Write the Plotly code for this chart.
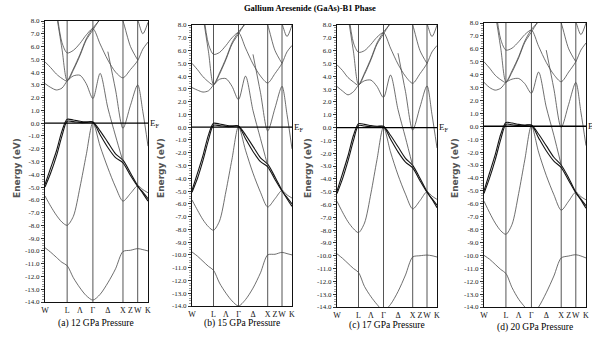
import plotly.graph_objects as go

# ---------------- data ----------------
K_PATH = [0.0, 0.055, 0.11, 0.165, 0.215, 0.275, 0.34, 0.40, 0.465, 0.535,
          0.61, 0.685, 0.757, 0.83, 0.90, 0.95, 1.0]
SYM_POS = [0.0, 0.215, 0.34, 0.465, 0.61, 0.757, 0.83, 0.90, 1.0]
SYM_LABELS = ["W", "L", "Λ", "Γ", "Δ", "X", "Z", "W", "K"]
VLINE_POS = [0.215, 0.465, 0.757, 0.90]
Y_TICKS = [8, 7, 6, 5, 4, 3, 2, 1, 0, -1, -2, -3, -4, -5, -6, -7, -8, -9,
           -10, -11, -12, -13, -14]
E_FERMI = 0.0
PANEL_TITLES = ["(a) 12 GPa Pressure", "(b) 15 GPa Pressure",
                "(c) 17 GPa Pressure", "(d) 20 GPa Pressure"]
MAIN_TITLE = "Gallium Aresenide (GaAs)-B1 Phase"
N = None

BANDS_12GPA = [
    [-9.75, -10.1, -10.5, -10.9, -11.15, -12.1, -12.9, -13.5, -13.85, -13.4, -12.5, -11.4, -10.05, -9.95, -9.82, -9.9, -10.0],
    [-5.7, -6.5, -7.2, -7.75, -8.0, -7.3, -5.0, -2.5, 0.05, -1.8, -3.5, -5.0, -6.1, -5.5, -4.9, -5.2, -5.45],
    [-4.8, -3.5, -2.2, -0.6, 0.3, 0.25, 0.15, 0.1, 0.1, -0.6, -1.5, -2.4, -2.9, -3.9, -4.9, -5.5, -6.1],
    [-5.0, -3.9, -2.6, -1.0, 0.15, 0.12, 0.05, 0.05, 0.08, -0.9, -1.9, -2.7, -3.1, -4.1, -4.95, -5.4, -5.9],
    [3.1, 2.8, 2.6, 2.75, 3.3, 3.7, 3.75, 3.1, 1.93, 3.9, 1.2, -1.0, -3.0, N, N, N, N],
    [N, N, N, N, N, N, N, N, N, N, 5.6, 2.6, -0.4, 1.4, 3.0, 0.9, -1.8],
    [4.8, 4.35, 3.85, 3.5, 3.3, 4.15, 5.3, 6.5, 7.3, 8.2, N, N, N, N, N, N, N],
    [N, N, 9.0, 6.3, 5.5, 5.7, 6.25, 6.9, 7.4, 6.2, 4.95, 4.0, 3.55, 4.2, 4.9, 5.8, 6.35],
    [N, 11.5, 8.6, 5.8, 3.35, 4.25, 5.4, 6.6, 7.45, 8.1, N, N, N, N, N, N, N],
    [N, N, N, N, N, N, N, N, N, N, N, N, N, 9.5, 8.1, 7.0, 7.9],
    [N, N, N, N, N, N, N, N, N, N, N, 9.5, 8.0, 6.0, 4.95, N, N],
]
BANDS_15GPA = [
    [-9.77, -10.1, -10.5, -10.9, -11.2, -12.2, -13.0, -13.6, -14.0, -13.5, -12.6, -11.4, -10.0, -9.95, -9.8, -9.9, -10.0],
    [-5.7, -6.5, -7.25, -7.8, -8.07, -7.35, -5.0, -2.5, 0.05, -1.8, -3.6, -5.1, -6.25, -5.6, -4.95, -5.3, -5.55],
    [-4.95, -3.6, -2.2, -0.6, 0.3, 0.25, 0.15, 0.1, 0.1, -0.6, -1.5, -2.4, -2.9, -3.9, -4.95, -5.6, -6.2],
    [-5.1, -4.0, -2.6, -1.0, 0.15, 0.12, 0.05, 0.05, 0.08, -0.9, -1.9, -2.7, -3.1, -4.1, -5.0, -5.5, -6.0],
    [3.1, 2.9, 2.75, 2.85, 3.3, 3.75, 3.8, 3.2, 2.15, 4.0, 1.3, -0.9, -3.0, N, N, N, N],
    [N, N, N, N, N, N, N, N, N, N, 5.7, 2.7, -0.3, 1.5, 3.2, 1.0, -1.7],
    [5.0, 4.5, 3.95, 3.55, 3.3, 4.15, 5.3, 6.5, 7.3, 8.2, N, N, N, N, N, N, N],
    [N, N, 9.2, 6.5, 5.7, 5.85, 6.4, 7.0, 7.4, 6.2, 4.95, 4.0, 3.46, 4.2, 5.0, 5.9, 6.4],
    [N, 11.6, 8.7, 5.9, 3.35, 4.25, 5.4, 6.6, 7.45, 8.1, N, N, N, N, N, N, N],
    [N, N, N, N, N, N, N, N, N, N, N, N, N, 9.5, 8.1, 7.1, 8.0],
    [N, N, N, N, N, N, N, N, N, N, N, 9.5, 8.0, 6.0, 5.0, N, N],
]
BANDS_17GPA = [
    [-9.85, -10.2, -10.6, -11.0, -11.3, -12.4, -13.2, -13.8, -14.3, -13.8, -12.8, -11.5, -10.1, -10.0, -9.95, -10.0, -10.1],
    [-5.75, -6.6, -7.35, -7.9, -8.2, -7.45, -5.1, -2.5, 0.05, -1.9, -3.7, -5.2, -6.35, -5.7, -5.0, -5.35, -5.6],
    [-4.95, -3.6, -2.2, -0.6, 0.3, 0.25, 0.15, 0.1, 0.1, -0.6, -1.5, -2.4, -2.95, -3.95, -5.0, -5.6, -6.25],
    [-5.15, -4.0, -2.6, -1.0, 0.15, 0.12, 0.05, 0.05, 0.08, -0.9, -1.9, -2.7, -3.15, -4.15, -5.05, -5.55, -6.05],
    [3.2, 2.85, 2.55, 2.8, 3.3, 3.65, 3.7, 3.2, 2.34, 4.1, 1.4, -0.8, -3.0, N, N, N, N],
    [N, N, N, N, N, N, N, N, N, N, 5.8, 2.8, -0.2, 1.6, 3.25, 1.0, -1.6],
    [4.9, 4.45, 3.9, 3.55, 3.3, 4.15, 5.3, 6.5, 7.3, 8.2, N, N, N, N, N, N, N],
    [N, N, 9.3, 6.6, 5.87, 6.0, 6.5, 7.05, 7.4, 6.2, 4.95, 4.0, 3.45, 4.2, 5.0, 5.9, 6.4],
    [N, 11.6, 8.7, 5.9, 3.35, 4.25, 5.4, 6.6, 7.45, 8.1, N, N, N, N, N, N, N],
    [N, N, N, N, N, N, N, N, N, N, N, N, N, 9.5, 8.1, 7.1, 8.0],
    [N, N, N, N, N, N, N, N, N, N, N, 9.5, 8.0, 6.0, 5.0, N, N],
]
BANDS_20GPA = [
    [-10.0, -10.3, -10.7, -11.1, -11.4, -12.5, -13.4, -14.0, -14.6, -14.0, -12.9, -11.6, -10.2, -10.05, -9.95, -10.05, -10.2],
    [-5.8, -6.7, -7.5, -8.1, -8.37, -7.6, -5.2, -2.6, 0.05, -2.0, -3.8, -5.3, -6.5, -5.8, -5.1, -5.45, -5.7],
    [-5.0, -3.6, -2.2, -0.6, 0.3, 0.25, 0.15, 0.1, 0.1, -0.6, -1.5, -2.4, -3.0, -4.0, -5.1, -5.7, -6.35],
    [-5.2, -4.0, -2.6, -1.0, 0.15, 0.12, 0.05, 0.05, 0.08, -0.9, -1.9, -2.7, -3.2, -4.2, -5.15, -5.65, -6.15],
    [3.4, 3.0, 2.8, 2.95, 3.4, 3.65, 3.7, 3.3, 2.55, 4.2, 1.5, -0.7, -3.0, N, N, N, N],
    [N, N, N, N, N, N, N, N, N, N, 5.9, 2.9, -0.1, 1.7, 3.4, 1.1, -1.5],
    [5.0, 4.5, 3.95, 3.6, 3.4, 4.2, 5.3, 6.5, 7.3, 8.2, N, N, N, N, N, N, N],
    [N, N, 9.4, 6.7, 5.9, 6.05, 6.55, 7.1, 7.45, 6.2, 4.95, 4.0, 3.45, 4.2, 5.0, 5.9, 6.45],
    [N, 11.7, 8.8, 6.0, 3.45, 4.3, 5.4, 6.6, 7.5, 8.1, N, N, N, N, N, N, N],
    [N, N, N, N, N, N, N, N, N, N, N, N, N, 9.5, 8.1, 7.1, 8.0],
    [N, N, N, N, N, N, N, N, N, N, N, 9.5, 8.0, 6.0, 5.0, N, N],
]
PANEL_BANDS = [BANDS_12GPA, BANDS_15GPA, BANDS_17GPA, BANDS_20GPA]

# ---------------- layout helpers (pixels) ----------------
W, H = 592, 339
BOXES = [(45, 148, 21, 302), (192, 292, 25, 306), (337, 437, 25, 307), (484, 586, 23, 307)]
YTITLE_X = [17, 161, 308, 455]
SUB_Y = [323, 323, 325, 327]
THICK = {2, 3}

SERIF = "Liberation Serif"


def px(x):
    return x / W


def py(y):
    return 1 - y / H


fig = go.Figure()
annotations = []
shapes = []
layout_axes = {}

for i, bands in enumerate(PANEL_BANDS):
    n = "" if i == 0 else str(i + 1)
    xa, ya = "x" + n, "y" + n
    l, r, t, b = BOXES[i]
    for j, band in enumerate(bands):
        fig.add_trace(go.Scatter(
            x=K_PATH, y=band, mode="lines", xaxis=xa, yaxis=ya,
            line=dict(color="#151515" if j in THICK else "#4a4a4a",
                      width=1.1 if j in THICK else 0.8,
                      shape="spline", smoothing=0.8),
            connectgaps=False, showlegend=False, hoverinfo="skip"))
    layout_axes["xaxis" + n] = dict(
        domain=[px(l), px(r)], anchor=ya, range=[0, 1], automargin=False,
        tickmode="array", tickvals=SYM_POS, ticktext=SYM_LABELS, tickangle=0,
        ticks="", showgrid=False, zeroline=False,
        showline=True, mirror=True, linecolor="#111", linewidth=1,
        tickfont=dict(family=SERIF, size=8, color="#111"))
    layout_axes["yaxis" + n] = dict(
        domain=[py(b), py(t)], anchor=xa, range=[-14, 8], automargin=False,
        tickmode="array", tickvals=Y_TICKS,
        ticktext=["%.1f" % v for v in Y_TICKS],
        ticks="outside", ticklen=3, tickwidth=1, tickcolor="#333",
        minor=dict(dtick=0.2, ticks="outside", ticklen=2, tickcolor="#555", tickwidth=0.6),
        showgrid=False, zeroline=False,
        showline=True, mirror=True, linecolor="#111", linewidth=1,
        tickfont=dict(family=SERIF, size=7, color="#222"))
    for v in VLINE_POS:
        shapes.append(dict(type="line", xref=xa, yref=ya + " domain",
                           x0=v, x1=v, y0=0, y1=1,
                           line=dict(color="#555", width=1), layer="below"))
    shapes.append(dict(type="line", xref=xa + " domain", yref=ya,
                       x0=0, x1=1, y0=E_FERMI, y1=E_FERMI,
                       line=dict(color="#000", width=1.3)))
    annotations.append(dict(xref=xa + " domain", yref=ya, x=1.0, y=E_FERMI,
                            xanchor="left", yanchor="middle", xshift=0,
                            text="E<sub>F</sub>", showarrow=False,
                            font=dict(family=SERIF, size=9, color="#111")))
    annotations.append(dict(xref="paper", yref="paper",
                            x=px((l + r) / 2), y=py(SUB_Y[i]),
                            text=PANEL_TITLES[i], showarrow=False,
                            xanchor="center", yanchor="middle",
                            font=dict(family=SERIF, size=9.5, color="#000")))
    annotations.append(dict(xref="paper", yref="paper",
                            x=px(YTITLE_X[i]), y=py(168),
                            text="<b>Energy (eV)</b>", textangle=-90,
                            showarrow=False, xanchor="center", yanchor="middle",
                            font=dict(family="DejaVu Sans", size=9, color="#555")))

annotations.append(dict(xref="paper", yref="paper", x=px(310), y=py(8),
                        text="<b>" + MAIN_TITLE + "</b>", showarrow=False,
                        xanchor="center", yanchor="middle",
                        font=dict(family=SERIF, size=8.5, color="#000")))

fig.update_layout(
    width=W, height=H, margin=dict(l=0, r=0, t=0, b=0, autoexpand=False),
    paper_bgcolor="white", plot_bgcolor="white",
    annotations=annotations, shapes=shapes, showlegend=False,
    **layout_axes)

fig.write_html("out.html",
               config={"displayModeBar": False, "staticPlot": True},
               post_script="document.body.style.margin='0';"
                           "document.body.style.overflow='hidden';")
